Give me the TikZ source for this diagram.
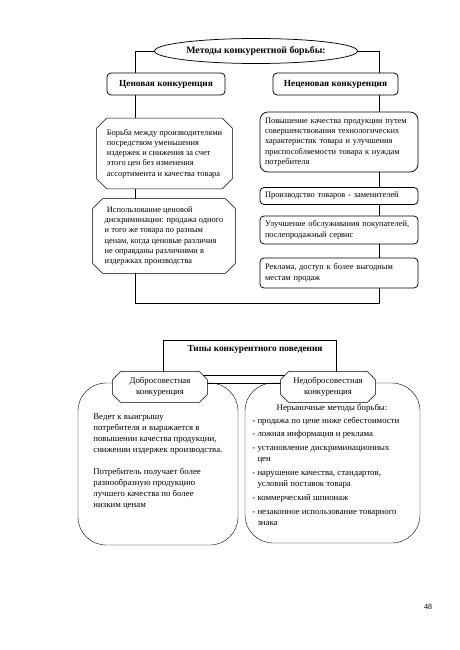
\documentclass[tikz,border=0pt]{standalone}
\usepackage{fontspec}
\setmainfont{Liberation Serif}
\usetikzlibrary{shapes.geometric,backgrounds,calc}
\newcommand\myocto[2]{\draw[fill=white] ([xshift=#2]#1.north west) -- ([xshift=-#2]#1.north east)
  -- ([yshift=-#2]#1.north east) -- ([yshift=#2]#1.south east) -- ([xshift=-#2]#1.south east)
  -- ([xshift=#2]#1.south west) -- ([yshift=#2]#1.south west) -- ([yshift=-#2]#1.north west) -- cycle;}
\begin{document}
\begin{tikzpicture}[x=1pt,y=-1pt,line width=0.75pt,
  txt/.style={font=\fontsize{8.4}{10.25}\selectfont},
  btxt/.style={font=\fontsize{8.8}{11}\selectfont},
  head/.style={font=\bfseries\fontsize{9.3}{11}\selectfont},
  rbox/.style={draw, rounded corners=4pt, inner sep=0pt, fill=white},
  wbox/.style={rbox, txt, align=left, inner xsep=5pt, inner ysep=0pt},
  obox/.style={rectangle, inner sep=0pt},
  bigbox/.style={draw, rounded corners=28pt, inner sep=0pt}]
\useasboundingbox (0,0) rectangle (459,650);
% ---------- top part ----------
\node[draw, ellipse, minimum width=203pt, minimum height=25pt, inner sep=0pt,
  font=\bfseries\fontsize{9.8}{11}\selectfont] (meth) at (256,51) {Методы конкурентной борьбы:};
\node[rbox, head, minimum width=118pt, minimum height=22pt] (cen) at (166,84) {Ценовая конкуренция};
\node[rbox, head, minimum width=125pt, minimum height=22pt] (necen) at (335.5,84) {Неценовая конкуренция};
\coordinate (lx) at (135,0);
\coordinate (rx) at (379,0);
\coordinate (bot) at (0,303);
\node[obox, txt, align=left, minimum width=135pt, minimum height=70pt] (bor) at (164.5,153.5)
  {Борьба между производителями\\посредством уменьшения\\издержек и снижения за счет\\этого цен без изменения\\ассортимента и качества товара};
\node[obox, txt, align=left, minimum width=142pt, minimum height=74pt] (isp) at (164,236)
  {\hspace*{2.2pt}Использование ценовой\\дискриминации: продажа одного\\и того же товара по разным\\ценам, когда ценовые различия\\не оправданы различиями в\\издержках производства};
\node[wbox, rounded corners=8pt, text width=148pt, minimum height=60pt] (pov) at (339,142)
  {Повышение качества продукции путем\\совершенствования технологических\\характеристик товара и улучшения\\приспособляемости товара к нуждам\\потребителя};
\node[wbox, text width=148pt, minimum height=17pt] (proiz) at (339,196)
  {Производство товаров - заменителей};
\node[wbox, text width=148pt, minimum height=28pt] (ulu) at (339,230)
  {Улучшение обслуживания покупателей,\\послепродажный сервис};
\node[wbox, text width=148pt, minimum height=30pt] (rek) at (339,273)
  {Реклама, доступ к более выгодным\\местам продаж};
\draw (meth.west) -| (cen.north -| lx);
\draw (meth.east) -| (necen.north -| rx);
\draw (cen.south -| lx) -- (bor.north -| lx);
\draw (bor.south -| lx) -- (isp.north -| lx);
\draw (isp.south -| lx) -- (lx |- bot) -- (rx |- bot) -- (rek.south -| rx);
\draw (necen.south -| rx) -- (pov.north -| rx);
\draw (pov.south -| rx) -- (proiz.north -| rx);
\draw (proiz.south -| rx) -- (ulu.north -| rx);
\draw (ulu.south -| rx) -- (rek.north -| rx);
% ---------- bottom part ----------
\node[head] (tipyt) at (255,349) {Типы конкурентного поведения};
\node[obox, btxt, align=center, minimum width=94pt, minimum height=30pt] (dob) at (160,387)
  {Добросовестная\\конкуренция};
\node[obox, btxt, align=center, minimum width=94pt, minimum height=30pt] (nedob) at (328,387)
  {Недобросовестная\\конкуренция};
\begin{scope}[on background layer]
  \myocto{bor}{10pt}
  \myocto{isp}{10pt}
  \node[draw, minimum width=173pt, minimum height=35pt, inner sep=0pt] (tipy) at (249.5,357.5) {};
  \node[bigbox, minimum width=160pt, minimum height=162pt] (bigL) at (158,464) {};
  \node[bigbox, minimum width=175pt, minimum height=160pt] (bigR) at (332.5,463) {};
  \draw (dob.east |- bigL.north) -- (nedob.west |- bigL.north);
  \myocto{dob}{8pt}
  \myocto{nedob}{8pt}
\end{scope}
\node[btxt, align=left, anchor=north west, inner sep=0pt] (ltxt) at (93,413)
  {Ведет к выигрышу\\потребителя и выражается в\\повышении качества продукции,\\снижении издержек производства.\\[11pt]Потребитель получает более\\разнообразную продукцию\\лучшего качества по более\\низким ценам};
\node[btxt, inner sep=0pt] (ner) at (332,408) {Нерыночные методы борьбы:};
\node[btxt, align=left, anchor=north west, inner sep=0pt] (list) at (252,416.5)
  {- продажа по цене ниже себестоимости\\[2.8pt]- ложная информация и реклама\\[2.8pt]- установление дискриминационных\\\hphantom{- }цен\\[2.8pt]- нарушение качества, стандартов,\\\hphantom{- }условий поставок товара\\[2.8pt]- коммерческий шпионаж\\[2.8pt]- незаконное использование товарного\\\hphantom{- }знака};
\node[font=\fontsize{8}{10}\selectfont] (pg) at (428,607) {48};
\end{tikzpicture}
\end{document}
